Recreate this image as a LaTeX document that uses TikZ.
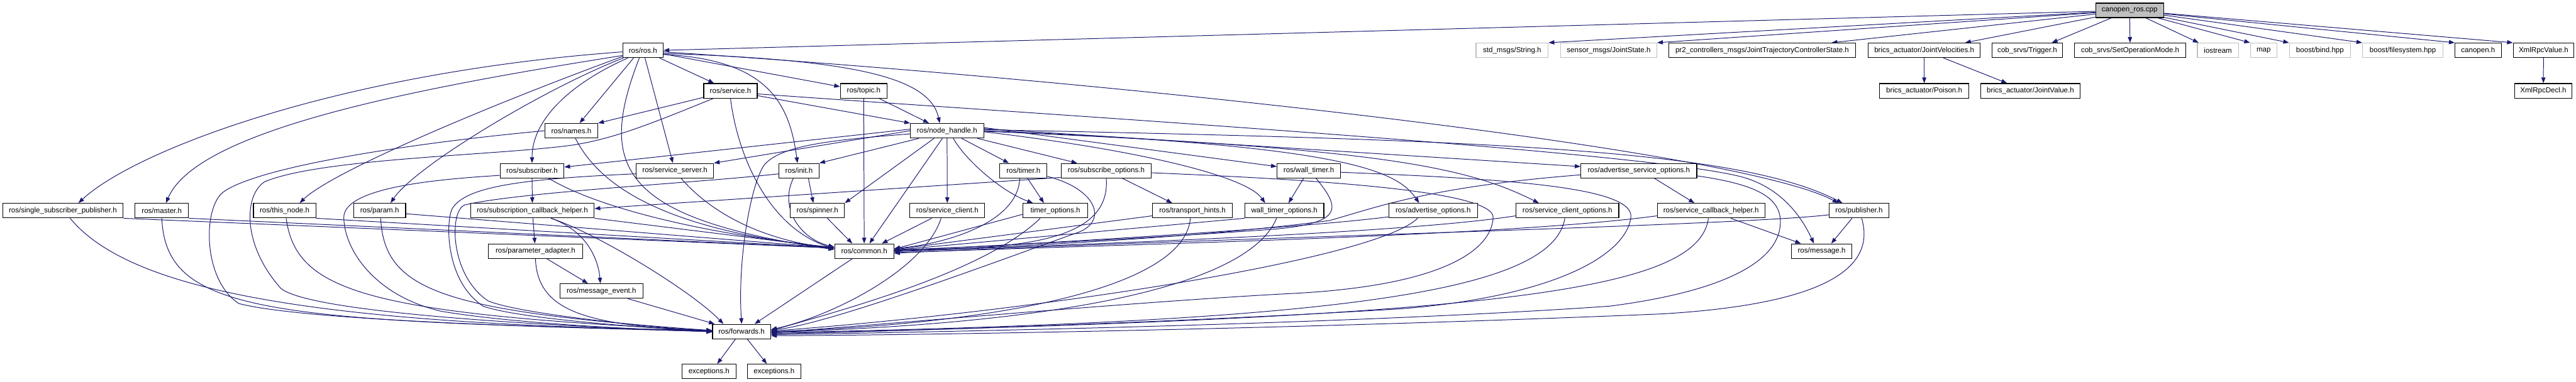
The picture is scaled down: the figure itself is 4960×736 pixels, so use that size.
\documentclass[tikz,border=0pt]{standalone}
\usepackage{fontspec}
\setmainfont{Liberation Sans}
\usetikzlibrary{arrows.meta,backgrounds}
\definecolor{edgeblue}{HTML}{191970}
\definecolor{greyb}{HTML}{BFBFBF}
\begin{document}
\begin{tikzpicture}[x=1pt,y=-1pt,
  box/.style={draw=black,line width=1.4pt,fill=white,minimum height=28pt,inner sep=0pt,font=\fontsize{14}{16}\selectfont},
  gbox/.style={box,draw=greyb},
  rbox/.style={box,fill=greyb},
  edg/.style={draw=edgeblue,line width=1.2pt,-{Triangle[length=11pt,width=8pt]}}]
\useasboundingbox (0,0) rectangle (4960,736);
% row A
\node[rbox,minimum width=131pt] (cpp) at (4100.5,20) {canopen\_ros.cpp};
% row B
\node[box,minimum width=78pt] (rosh) at (1238,97) {ros/ros.h};
\node[gbox,minimum width=139pt] (stdstr) at (2911.5,97) {std\_msgs/String.h};
\node[gbox,minimum width=185pt] (sensor) at (3097.5,97) {sensor\_msgs/JointState.h};
\node[box,minimum width=360pt] (pr2) at (3393,97) {pr2\_controllers\_msgs/JointTrajectoryControllerState.h};
\node[box,minimum width=216pt] (jvel) at (3705,97) {brics\_actuator/JointVelocities.h};
\node[box,minimum width=135pt] (trig) at (3903.5,97) {cob\_srvs/Trigger.h};
\node[box,minimum width=215pt] (setop) at (4101.5,97) {cob\_srvs/SetOperationMode.h};
\node[gbox,minimum width=79pt] (iostr) at (4270.5,97) {iostream};
\node[gbox,minimum width=51pt] (mapn) at (4358.5,97) {map};
\node[gbox,minimum width=118pt] (bind) at (4467,97) {boost/bind.hpp};
\node[gbox,minimum width=155pt] (fsys) at (4626.5,97) {boost/filesystem.hpp};
\node[box,minimum width=89pt] (canh) at (4771.5,97) {canopen.h};
\node[box,minimum width=117pt] (xrv) at (4897.5,97) {XmlRpcValue.h};
% row C
\node[box,minimum width=103pt] (srv) at (1406.5,175) {ros/service.h};
\node[box,minimum width=90pt] (topic) at (1663,175) {ros/topic.h};
\node[box,minimum width=172pt] (poison) at (3705,175) {brics\_actuator/Poison.h};
\node[box,minimum width=191pt] (jval) at (3909.5,175) {brics\_actuator/JointValue.h};
\node[box,minimum width=110pt] (xrd) at (4897,175) {XmlRpcDecl.h};
% row D
\node[box,minimum width=102pt] (names) at (1100,252) {ros/names.h};
\node[box,minimum width=141pt] (nh) at (1823.5,252) {ros/node\_handle.h};
% row E
\node[box,minimum width=123pt] (sub) at (1024.5,329) {ros/subscriber.h};
\node[box,minimum width=149pt] (ssrv) at (1299.5,329) {ros/service\_server.h};
\node[box,minimum width=77pt] (init) at (1538.5,329) {ros/init.h};
\node[box,minimum width=91pt] (timer) at (1970.5,329) {ros/timer.h};
\node[box,minimum width=174pt] (subopt) at (2130,329) {ros/subscribe\_options.h};
\node[box,minimum width=122pt] (wtimer) at (2520,329) {ros/wall\_timer.h};
\node[box,minimum width=223pt] (asopt) at (3155.5,329) {ros/advertise\_service\_options.h};
% row F
\node[box,minimum width=232pt] (ssp) at (121,406) {ros/single\_subscriber\_publisher.h};
\node[box,minimum width=103pt] (master) at (311.5,406) {ros/master.h};
\node[box,minimum width=120pt] (thisn) at (548,406) {ros/this\_node.h};
\node[box,minimum width=100pt] (param) at (731,406) {ros/param.h};
\node[box,minimum width=238pt] (sch) at (1025,406) {ros/subscription\_callback\_helper.h};
\node[box,minimum width=104pt] (spin) at (1574,406) {ros/spinner.h};
\node[box,minimum width=144pt] (sclient) at (1824,406) {ros/service\_client.h};
\node[box,minimum width=124pt] (topt) at (2032,406) {timer\_options.h};
\node[box,minimum width=154pt] (thints) at (2296,406) {ros/transport\_hints.h};
\node[box,minimum width=152pt] (wtopt) at (2473,406) {wall\_timer\_options.h};
\node[box,minimum width=171pt] (aopt) at (2759.5,406) {ros/advertise\_options.h};
\node[box,minimum width=198pt] (scopt) at (3018,406) {ros/service\_client\_options.h};
\node[box,minimum width=207pt] (scbh) at (3294.5,406) {ros/service\_callback\_helper.h};
\node[box,minimum width=115pt] (pub) at (3579.5,406) {ros/publisher.h};
% row G
\node[box,minimum width=182pt] (padapt) at (1031,484) {ros/parameter\_adapter.h};
\node[box,minimum width=114pt] (common) at (1664,484) {ros/common.h};
\node[box,minimum width=117pt] (msg) at (3507.5,484) {ros/message.h};
% row H, I, J
\node[box,minimum width=160pt] (mevent) at (1158,561) {ros/message\_event.h};
\node[box,minimum width=112pt] (fwd) at (1428,639) {ros/forwards.h};
\node[box,minimum width=104pt] (exc1) at (1365,716) {exceptions.h};
\node[box,minimum width=103pt] (exc2) at (1490.5,716) {exceptions.h};

\begin{scope}[on background layer]
% canopen_ros.cpp
\draw[edg] (cpp) -- (rosh.east);
\draw[edg] (cpp) -- (stdstr.north east);
\draw[edg] (cpp) -- (sensor.north east);
\draw[edg] (cpp) -- ([xshift=-47pt]pr2.north east);
\draw[edg] (cpp) -- ([xshift=-30pt]jvel.north east);
\draw[edg] (cpp) -- ([xshift=-21pt]trig.north east);
\draw[edg] (cpp) -- (setop);
\draw[edg] (cpp) -- ([xshift=3pt]iostr.north west);
\draw[edg] (cpp) -- (mapn.north west);
\draw[edg] (cpp) -- (bind.north west);
\draw[edg] (cpp) -- (fsys.north west);
\draw[edg] (cpp) -- (canh.north west);
\draw[edg] (cpp) -- (xrv.north west);
\draw[edg] (jvel) -- (poison);
\draw[edg] (jvel) -- ([xshift=-45pt]jval.north);
\draw[edg] (xrv) -- (xrd);
% ros/ros.h
\draw[edg] ([yshift=-3pt]rosh.west) .. controls (650,140) and (260,290) .. ([xshift=30pt]ssp.north);
\draw[edg] ([yshift=-10pt]rosh.west) .. controls (800,170) and (380,250) .. ([xshift=8pt]master.north);
\draw[edg] ([yshift=-12pt]rosh.west) .. controls (950,200) and (640,330) .. ([xshift=29pt]thisn.north);
\draw[edg] ([xshift=2pt]rosh.south west) .. controls (1050,170) and (800,320) .. ([xshift=21pt]param.north);
\draw[edg] ([xshift=-18pt]rosh.south) -- ([xshift=16pt]names.north);
\draw[edg] ([xshift=-29pt]rosh.south) .. controls (1100,160) and (1024,230) .. (sub.north);
\draw[edg] ([xshift=-7pt]rosh.south) .. controls (1150,320) and (1190,420) .. ([yshift=3pt]common.west);
\draw[edg] (rosh) -- (ssrv);
\draw[edg] (rosh) -- (srv);
\draw[edg] ([yshift=-8pt]rosh.east) .. controls (1480,115) and (1520,200) .. ([xshift=-3pt]init.north);
\draw[edg] ([yshift=-7pt]rosh.east) -- ([yshift=8pt]topic.west);
\draw[edg] ([yshift=-6pt]rosh.east) .. controls (1650,115) and (1790,150) .. ([xshift=-14pt]nh.north);
\draw[edg] ([yshift=-3pt]rosh.east) .. controls (2200,160) and (3350,290) .. ([xshift=-40pt]pub.north);
% ros/service.h
\draw[edg] (srv) -- (names.north east);
\draw[edg] (srv) -- (nh.north west);
\draw[edg] (srv.south) .. controls (1420,300) and (1480,440) .. ([yshift=5pt]common.west);
\draw[edg] ([yshift=-6pt]srv.east) .. controls (2000,220) and (3150,290) .. (3350,340) .. controls (3430,360) and (3470,420) .. ([xshift=-15pt]msg.north);
\draw[edg] ([xshift=-33pt]srv.south) .. controls (1250,240) and (1180,268) .. (1100,280) .. controls (950,300) and (620,305) .. (510,350) .. controls (470,375) and (465,470) .. (540,555) .. controls (600,610) and (1200,634) .. (fwd.west);
% ros/topic.h
\draw[edg] (topic) -- ([xshift=-35pt]nh.north);
\draw[edg] (topic) -- (common);
% ros/names.h
\draw[edg] ([xshift=8pt]names.south) .. controls (1170,390) and (1350,450) .. ([yshift=6pt]common.west);
\draw[edg] (names.west) .. controls (800,275) and (500,320) .. (430,370) .. controls (390,400) and (390,540) .. (460,585) .. controls (600,622) and (1200,634) .. (fwd.west);
% ros/subscriber.h
\draw[edg] (sub) -- (sch);
\draw[edg] ([xshift=32pt]sub.south) .. controls (1150,400) and (1350,450) .. ([yshift=7pt]common.west);
\draw[edg] ([yshift=-9pt]sub.west) .. controls (850,345) and (660,360) .. (662,420) .. controls (663,480) and (720,570) .. (850,600) .. controls (1000,625) and (1250,636) .. (fwd.west);
% ros/service_server.h
\draw[edg] ([yshift=-6pt]ssrv.west) .. controls (1000,345) and (900,360) .. (872,400) .. controls (858,420) and (855,540) .. (930,590) .. controls (1000,615) and (1250,632) .. (fwd.west);
\draw[edg] ([xshift=12pt]ssrv.south) .. controls (1360,400) and (1450,460) .. ([yshift=5pt]common.west);
% ros/init.h
\draw[edg] ([yshift=-6pt]init.west) .. controls (1350,352) and (1000,370) .. (895,395) .. controls (865,405) and (865,530) .. (940,580) .. controls (1000,605) and (1250,630) .. (fwd.west);
\draw[edg] ([xshift=-11pt]init.south) .. controls (1500,400) and (1540,460) .. ([yshift=8pt]common.west);
\draw[edg] ([xshift=18pt]init.south) -- ([xshift=-8pt]spin.north);
% ros/node_handle.h
\draw[edg] ([yshift=3pt]nh.west) -- ([yshift=7pt]sub.east);
\draw[edg] (nh.west) -- (ssrv.north east);
\draw[edg] ([xshift=17pt]nh.south west) -- (init.north east);
\draw[edg] ([xshift=-25pt]nh.south) -- (spin.north east);
\draw[edg] ([xshift=-9pt]nh.south) -- ([xshift=10pt]common.north);
\draw[edg] ([yshift=-6pt]nh.west) .. controls (1600,270) and (1500,280) .. (1470,320) .. controls (1445,360) and (1420,500) .. (fwd.north);
\draw[edg] (nh) -- (sclient);
\draw[edg] ([xshift=12pt]nh.south) .. controls (1860,310) and (1930,370) .. ([xshift=-43pt]topt.north);
\draw[edg] ([xshift=28pt]nh.south) -- ([xshift=-28pt]timer.north);
\draw[edg] ([xshift=-13pt]nh.south east) -- ([xshift=-56pt]subopt.north);
\draw[edg] ([yshift=6pt]nh.east) -- ([yshift=8pt]wtimer.west);
\draw[edg] ([yshift=4pt]nh.east) -- ([yshift=8pt]asopt.west);
\draw[edg] ([yshift=-2pt]nh.east) .. controls (2200,290) and (2400,340) .. ([xshift=-37pt]wtopt.north);
\draw[edg] (nh.east) .. controls (2600,280) and (2690,330) .. ([xshift=-27pt]aopt.north);
\draw[edg] ([yshift=-1pt]nh.east) .. controls (2650,285) and (2820,320) .. ([xshift=-55pt]scopt.north);
\draw[edg] ([yshift=2pt]nh.east) .. controls (2900,270) and (3350,290) .. ([xshift=-32pt]pub.north);
% ros/timer.h
\draw[edg] ([xshift=8pt]timer.south) -- ([xshift=-22pt]topt.north);
\draw[edg] ([xshift=-7pt]timer.south) .. controls (1960,430) and (1820,470) .. ([yshift=5pt]common.east);
\draw[edg] ([yshift=-11pt]timer.east) .. controls (2115,365) and (2135,430) .. (2070,450) .. controls (1970,485) and (1600,625) .. ([yshift=3pt]fwd.east);
% ros/subscribe_options.h
\draw[edg] ([yshift=-13pt]subopt.west) -- ([yshift=4pt]sch.east);
\draw[edg] (subopt.south) .. controls (2140,470) and (1950,480) .. ([yshift=3pt]common.east);
\draw[edg] ([xshift=31pt]subopt.south) -- ([xshift=-39pt]thints.north);
\draw[edg] ([yshift=-4pt]subopt.east) .. controls (2500,345) and (2880,365) .. (2875,420) .. controls (2870,490) and (2760,550) .. (2500,565) .. controls (2200,580) and (1650,630) .. ([yshift=-2pt]fwd.east);
% ros/wall_timer.h
\draw[edg] ([xshift=-10pt]wtimer.south) -- ([xshift=8pt]wtopt.north);
\draw[edg] ([xshift=14pt]wtimer.south) .. controls (2580,400) and (2590,430) .. (2450,442) .. controls (2200,460) and (1900,475) .. ([yshift=2pt]common.east);
\draw[edg] ([yshift=-3pt]wtimer.east) .. controls (2900,345) and (3150,360) .. (3140,420) .. controls (3130,490) and (3000,570) .. (2700,595) .. controls (2300,620) and (1700,640) .. ([yshift=-4pt]fwd.east);
% ros/advertise_service_options.h
\draw[edg] ([xshift=30pt]asopt.south) -- ([xshift=-32pt]scbh.north);
\draw[edg] ([yshift=-8pt]asopt.west) .. controls (2750,360) and (2650,400) .. (2560,425) .. controls (2300,460) and (1900,478) .. (common.east);
\draw[edg] ([yshift=-10pt]asopt.east) .. controls (3380,355) and (3430,380) .. (3428,430) .. controls (3426,500) and (3330,560) .. (3100,590) .. controls (2600,625) and (1800,640) .. ([yshift=-6pt]fwd.east);
% left part of row F
\draw[edg] (ssp.south east) -- ([yshift=6pt]common.west);
\draw[edg] (master.south east) -- ([yshift=6pt]common.west);
\draw[edg] (thisn.south east) -- ([yshift=6pt]common.west);
\draw[edg] ([yshift=-6pt]param.east) -- ([yshift=6pt]common.west);
\draw[edg] ([xshift=14pt]ssp.south) .. controls (250,560) and (600,625) .. ([yshift=2pt]fwd.west);
\draw[edg] (master.south) .. controls (320,600) and (500,620) .. ([yshift=2pt]fwd.west);
\draw[edg] ([xshift=3pt]thisn.south) .. controls (570,560) and (700,605) .. ([yshift=2pt]fwd.west);
\draw[edg] ([xshift=2pt]param.south) .. controls (740,560) and (850,600) .. ([yshift=2pt]fwd.west);
% ros/subscription_callback_helper.h
\draw[edg] (sch) -- (padapt);
\draw[edg] ([xshift=36pt]sch.south) .. controls (1130,445) and (1152,500) .. ([xshift=-2pt]mevent.north);
\draw[edg] ([xshift=36pt]sch.south) .. controls (1150,450) and (1330,560) .. ([xshift=-35pt]fwd.north);
\draw[edg] (sch.south east) -- ([yshift=6pt]common.west);
% lower part
\draw[edg] ([xshift=22pt]padapt.south) -- ([xshift=-26pt]mevent.north);
\draw[edg] (padapt.south) .. controls (1035,610) and (1150,625) .. ([yshift=-1pt]fwd.west);
\draw[edg] ([xshift=51pt]mevent.south) -- ([xshift=-52pt]fwd.north);
\draw[edg] ([xshift=-23pt]common.south) -- ([xshift=25pt]fwd.north);
\draw[edg] ([xshift=-12pt]fwd.south) -- ([xshift=16pt]exc1.north);
\draw[edg] ([xshift=11pt]fwd.south) -- ([xshift=-14pt]exc2.north);
\draw[edg] ([xshift=19pt]spin.south) -- ([xshift=-23pt]common.north);
% right part of row F
\draw[edg] ([xshift=-30pt]sclient.south) -- ([xshift=34pt]common.north);
\draw[edg] ([xshift=-12pt]sclient.south) .. controls (1780,520) and (1600,610) .. ([yshift=4pt]fwd.east);
\draw[edg] ([yshift=-7pt]topt.west) -- ([yshift=4pt]common.east);
\draw[edg] ([xshift=-29pt]topt.south) .. controls (1900,520) and (1650,590) .. ([yshift=2pt]fwd.east);
\draw[edg] ([yshift=-10pt]thints.west) -- ([yshift=3pt]common.east);
\draw[edg] ([xshift=-4pt]thints.south) .. controls (2280,560) and (1900,625) .. (fwd.east);
\draw[edg] (wtopt.south west) -- ([yshift=2pt]common.east);
\draw[edg] ([xshift=-15pt]wtopt.south) .. controls (2400,560) and (2000,625) .. ([yshift=-1pt]fwd.east);
\draw[edg] ([yshift=-12pt]aopt.west) .. controls (2500,440) and (2000,470) .. ([yshift=1pt]common.east);
\draw[edg] ([xshift=-30pt]aopt.south) .. controls (2650,500) and (2000,600) .. ([yshift=1pt]fwd.east);
\draw[edg] ([yshift=-10pt]scopt.west) .. controls (2700,450) and (2100,470) .. ([yshift=-1pt]common.east);
\draw[edg] ([xshift=-5pt]scopt.south) .. controls (2990,560) and (2600,620) .. ([yshift=-2pt]fwd.east);
\draw[edg] ([yshift=-10pt]scbh.west) .. controls (2900,455) and (2200,470) .. ([yshift=-3pt]common.east);
\draw[edg] ([xshift=38pt]scbh.south) -- ([xshift=-40pt]msg.north);
\draw[edg] ([xshift=-5pt]scbh.south) .. controls (3270,560) and (2900,610) .. ([yshift=-4pt]fwd.east);
\draw[edg] ([yshift=-8pt]pub.west) .. controls (3350,435) and (2300,460) .. ([yshift=-4pt]common.east);
\draw[edg] ([xshift=-13.5pt]pub.south) -- ([xshift=18.5pt]msg.north);
\draw[edg] ([xshift=5pt]pub.south) .. controls (3620,540) and (3450,590) .. (3200,605) .. controls (2600,630) and (1900,645) .. ([yshift=-8pt]fwd.east);
\end{scope}
\end{tikzpicture}
\end{document}
